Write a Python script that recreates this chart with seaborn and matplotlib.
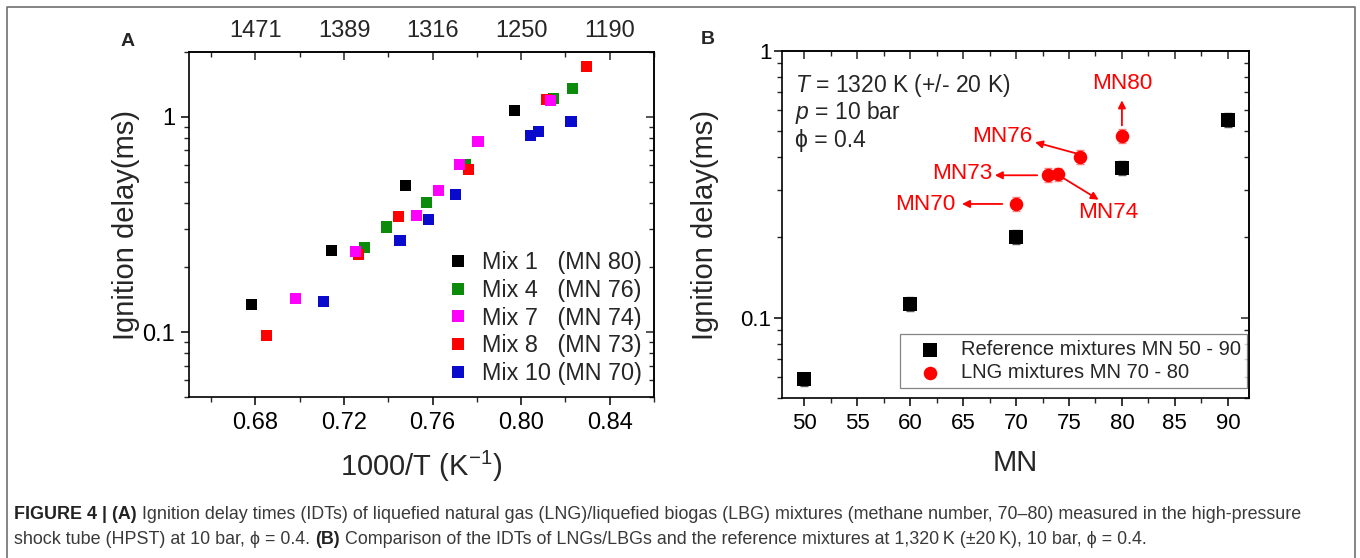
import numpy as np
import pandas as pd
import matplotlib
matplotlib.use("Agg")
import matplotlib.pyplot as plt
import seaborn as sns
from matplotlib.ticker import LogLocator, NullFormatter, MultipleLocator
from matplotlib.lines import Line2D

# ---- panel A: 1000/T (1/K) vs ignition delay (ms)
mix_names = ["Mix 1   (MN 80)", "Mix 4   (MN 76)", "Mix 7   (MN 74)",
             "Mix 8   (MN 73)", "Mix 10 (MN 70)"]
mix_colors = ["#000000", "#0b8a0b", "#ff00ff", "#ff0000", "#0a0acc"]

mix1_x = [0.6783, 0.7143, 0.7477, 0.7968]
mix1_y = [0.134, 0.239, 0.481, 1.074]
mix4_x = [0.7294, 0.7392, 0.7574, 0.7747, 0.8148, 0.8231]
mix4_y = [0.248, 0.308, 0.400, 0.600, 1.217, 1.355]
mix7_x = [0.6981, 0.7252, 0.7528, 0.7628, 0.7722, 0.7805, 0.8133]
mix7_y = [0.143, 0.236, 0.348, 0.456, 0.598, 0.768, 1.195]
mix8_x = [0.6851, 0.7265, 0.7447, 0.7764, 0.8113, 0.8296]
mix8_y = [0.0965, 0.230, 0.344, 0.571, 1.204, 1.708]
mix10_x = [0.7108, 0.7453, 0.7581, 0.7702, 0.8042, 0.8077, 0.8225]
mix10_y = [0.139, 0.267, 0.334, 0.435, 0.819, 0.852, 0.954]

inv_t_ticks = [0.68, 0.72, 0.76, 0.80, 0.84]
inv_t_labels = ["0.68", "0.72", "0.76", "0.80", "0.84"]
temp_labels = ["1471", "1389", "1316", "1250", "1190"]

# ---- panel B: methane number vs ignition delay (ms)
mn_ref = [50, 60, 70, 80, 90]
idt_ref = [0.0588, 0.113, 0.201, 0.365, 0.551]
err_ref = [0.0035, 0.007, 0.012, 0.022, 0.033]
mn_lng = [70, 73, 74, 76, 80]
idt_lng = [0.267, 0.343, 0.345, 0.400, 0.481]
err_lng = [0.016, 0.020, 0.020, 0.024, 0.029]
lng_tags = ["MN70", "MN73", "MN74", "MN76", "MN80"]

W, H = 1360, 558
sns.set_style("ticks")
plt.rcParams["font.family"] = ["Liberation Sans", "DejaVu Sans"]
plt.rcParams["mathtext.fontset"] = "custom"
plt.rcParams["mathtext.rm"] = "Liberation Sans"
plt.rcParams["mathtext.it"] = "Liberation Sans:italic"
plt.rcParams["mathtext.bf"] = "Liberation Sans:bold"

fig = plt.figure(figsize=(W / 100, H / 100), dpi=100)
fig.patch.set_facecolor("white")


def px_axes(l, t, r, b):
    return fig.add_axes([l / W, 1 - b / H, (r - l) / W, (b - t) / H])


def style_log_axes(ax, lw=1.2):
    for sp in ax.spines.values():
        sp.set_linewidth(lw)
        sp.set_color("black")
    ax.set_yscale("log")
    ax.yaxis.set_minor_locator(LogLocator(base=10, subs=np.arange(2, 10)))
    ax.yaxis.set_minor_formatter(NullFormatter())
    ax.tick_params(which="major", direction="out", length=6, width=1.1,
                   top=False, right=False, colors="black")
    ax.tick_params(which="minor", direction="out", length=3.5, width=1.0,
                   top=False, right=False)
    ax.grid(False)


def inner_ticks(sec, axis):
    sec.tick_params(which="major", direction="in", length=6, width=1.1)
    sec.tick_params(which="minor", direction="in", length=3.5, width=1.0)
    side = "top" if axis == "x" else "right"
    sec.spines[side].set_linewidth(1.2)


# ================= panel A =================
ax_a = px_axes(189, 52, 654, 397)
rows = []
for name, xs, ys in [(mix_names[0], mix1_x, mix1_y), (mix_names[1], mix4_x, mix4_y),
                     (mix_names[3], mix8_x, mix8_y), (mix_names[2], mix7_x, mix7_y),
                     (mix_names[4], mix10_x, mix10_y)]:
    for xv, yv in zip(xs, ys):
        rows.append({"inv_T": xv, "idt": yv, "mix": name})
df_a = pd.DataFrame(rows)

sns.scatterplot(data=df_a, x="inv_T", y="idt", hue="mix", hue_order=mix_names,
                palette=dict(zip(mix_names, mix_colors)), marker="s", s=64,
                linewidth=0, ax=ax_a, zorder=3)
style_log_axes(ax_a)
ax_a.set_xlim(0.65, 0.86)
ax_a.set_ylim(0.05, 2.0)
ax_a.set_xticks(inv_t_ticks)
ax_a.set_xticklabels(inv_t_labels)
ax_a.xaxis.set_minor_locator(MultipleLocator(0.02))
ax_a.set_yticks([0.1, 1])
ax_a.set_yticklabels(["0.1", "1"])
ax_a.tick_params(axis="both", which="major", labelsize=17)
ax_a.tick_params(axis="x", pad=5)
ax_a.tick_params(axis="y", pad=4)
ax_a.set_xlabel("1000/T (K$^{-1}$)", fontsize=21)
ax_a.set_ylabel("Ignition delay(ms)", fontsize=21)
ax_a.xaxis.set_label_coords(0.5, -0.15)
ax_a.yaxis.set_label_coords(-0.105, 0.5)

top_a = ax_a.secondary_xaxis("top")
top_a.set_xticks(inv_t_ticks)
top_a.set_xticklabels(temp_labels)
top_a.xaxis.set_minor_locator(MultipleLocator(0.02))
inner_ticks(top_a, "x")
top_a.tick_params(which="major", labelsize=17, pad=7)

right_a = ax_a.secondary_yaxis("right")
right_a.set_yticks([0.1, 1])
right_a.set_yticklabels(["", ""])
right_a.yaxis.set_minor_locator(LogLocator(base=10, subs=np.arange(2, 10)))
right_a.yaxis.set_minor_formatter(NullFormatter())
inner_ticks(right_a, "y")

h, l = ax_a.get_legend_handles_labels()
ax_a.legend(h, l, loc="lower right", bbox_to_anchor=(0.975, 0.035), frameon=False,
            fontsize=16.8, handlelength=1.0, handletextpad=0.55, labelspacing=0.2,
            borderpad=0, borderaxespad=0, markerscale=1.05)

# ================= panel B =================
ax_b = px_axes(782, 51, 1249, 398)
df_ref = pd.DataFrame({"MN": mn_ref, "idt": idt_ref, "err": err_ref})
df_lng = pd.DataFrame({"MN": mn_lng, "idt": idt_lng, "err": err_lng})

ax_b.errorbar(df_ref["MN"], df_ref["idt"], yerr=df_ref["err"], fmt="none",
              ecolor="#555555", elinewidth=1.0, capsize=3, capthick=1.0, zorder=2)
ax_b.errorbar(df_lng["MN"], df_lng["idt"], yerr=df_lng["err"], fmt="none",
              ecolor="#ff8080", elinewidth=1.0, capsize=3, capthick=1.0, zorder=2)
sns.scatterplot(data=df_ref, x="MN", y="idt", marker="s", s=100, color="black",
                linewidth=0, ax=ax_b, zorder=3, label="Reference mixtures MN 50 - 90")
sns.scatterplot(data=df_lng, x="MN", y="idt", marker="o", s=95, color="#ff0000",
                linewidth=0, ax=ax_b, zorder=3, label="LNG mixtures MN 70 - 80")
style_log_axes(ax_b)
ax_b.set_xlim(47.9, 92.0)
ax_b.set_ylim(0.05, 1.0)
ax_b.set_xticks(np.arange(50, 91, 5))
ax_b.xaxis.set_minor_locator(MultipleLocator(2.5))
ax_b.set_yticks([0.1, 1])
ax_b.set_yticklabels(["0.1", "1"])
ax_b.tick_params(axis="both", which="major", labelsize=16)
ax_b.tick_params(axis="x", pad=5)
ax_b.tick_params(axis="y", pad=1.5)
ax_b.set_xlabel("MN", fontsize=21)
ax_b.set_ylabel("Ignition delay(ms)", fontsize=21)
ax_b.xaxis.set_label_coords(0.5, -0.148)
ax_b.yaxis.set_label_coords(-0.135, 0.5)

top_b = ax_b.secondary_xaxis("top")
top_b.set_xticks(np.arange(50, 91, 5))
top_b.set_xticklabels([])
top_b.xaxis.set_minor_locator(MultipleLocator(2.5))
inner_ticks(top_b, "x")

right_b = ax_b.secondary_yaxis("right")
right_b.set_yticks([0.1, 1])
right_b.set_yticklabels(["", ""])
right_b.yaxis.set_minor_locator(LogLocator(base=10, subs=np.arange(2, 10)))
right_b.yaxis.set_minor_formatter(NullFormatter())
inner_ticks(right_b, "y")

leg_b = ax_b.legend(loc="lower right", bbox_to_anchor=(0.996, 0.029), frameon=True,
                    fancybox=False, fontsize=14.5, handlelength=2.4, handletextpad=0.34,
                    labelspacing=0.2, borderpad=0.3, borderaxespad=0)
leg_b.get_frame().set_edgecolor("#666666")
leg_b.get_frame().set_linewidth(0.9)

# condition text
ax_b.text(0.028, 0.883, r"$T$ = 1320 K (+/- 20 K)", transform=ax_b.transAxes,
          fontsize=16.5, va="baseline", ha="left")
ax_b.text(0.028, 0.803, r"$p$ = 10 bar", transform=ax_b.transAxes,
          fontsize=16.5, va="baseline", ha="left")
ax_b.text(0.028, 0.722, "\u03d5 = 0.4", transform=ax_b.transAxes,
          fontsize=16.5, va="baseline", ha="left")

# red tags with arrows: (tag, text position, arrow tail, arrow head)
tag_layout = {
    "MN70": ((61.4, 0.266), (68.7, 0.267), (64.9, 0.267)),
    "MN73": ((64.9, 0.346), (72.0, 0.342), (68.0, 0.342)),
    "MN74": ((78.7, 0.247), (74.3, 0.337), (77.8, 0.277)),
    "MN76": ((68.7, 0.476), (75.6, 0.414), (71.8, 0.455)),
    "MN80": ((80.0, 0.754), (80.0, 0.526), (80.0, 0.653)),
}
for tag in lng_tags:
    txy, tail, head = tag_layout[tag]
    ax_b.text(txy[0], txy[1], tag, color="#ff0000", fontsize=16.2,
              ha="center", va="center")
    ax_b.annotate("", xy=head, xytext=tail,
                  arrowprops=dict(arrowstyle="-|>", color="#ff0000", lw=1.3,
                                  mutation_scale=11, shrinkA=0, shrinkB=0))

# panel letters
fig.text(128 / W, 1 - 42 / H, "A", fontsize=14, weight="bold", ha="center", va="center")
fig.text(708 / W, 1 - 39 / H, "B", fontsize=14, weight="bold", ha="center", va="center")

# frame around figure
fig.add_artist(Line2D([7 / W, 7 / W, 1355 / W, 1355 / W], [0, 1 - 7 / H, 1 - 7 / H, 0],
                      transform=fig.transFigure, color="#707070", lw=1.2))

# caption with bold pieces
cap_lines = [
    [("FIGURE 4 | (A)", "bold"),
     ("Ignition delay times (IDTs) of liquefied natural gas (LNG)/liquefied biogas (LBG) "
      "mixtures (methane number, 70\u201380) measured in the high-pressure", "normal")],
    [("shock tube (HPST) at 10 bar, \u03d5 = 0.4.", "normal"),
     ("(B)", "bold"),
     ("Comparison of the IDTs of LNGs/LBGs and the reference mixtures at "
      "1,320\u2009K (\u00b120\u2009K), 10 bar, \u03d5 = 0.4.", "normal")],
]
cap_base = [519, 544.5]
renderer = fig.canvas.get_renderer()


def text_width(s, size, weight="normal"):
    t = fig.text(0, 0, s, fontsize=size, weight=weight)
    w = t.get_window_extent(renderer).width
    t.remove()
    return w


# fit font size so that the first caption line spans the measured width
probe = 10.0
w_probe = sum(text_width(s, probe, wt) for s, wt in cap_lines[0]) + \
    (len(cap_lines[0]) - 1) * (text_width("a a", probe) - text_width("aa", probe))
cap_size = probe * (1299 - 14) / w_probe
space_w = text_width("a a", cap_size) - text_width("aa", cap_size)

for line, yb in zip(cap_lines, cap_base):
    x = 14.0
    for i, (s, wt) in enumerate(line):
        t = fig.text(x / W, 1 - yb / H, s, fontsize=cap_size, weight=wt,
                     color="#222222" if wt == "bold" else "#3a3a3a",
                     ha="left", va="baseline")
        x += t.get_window_extent(renderer).width + space_w

fig.savefig("out.png", dpi=100, facecolor="white")
